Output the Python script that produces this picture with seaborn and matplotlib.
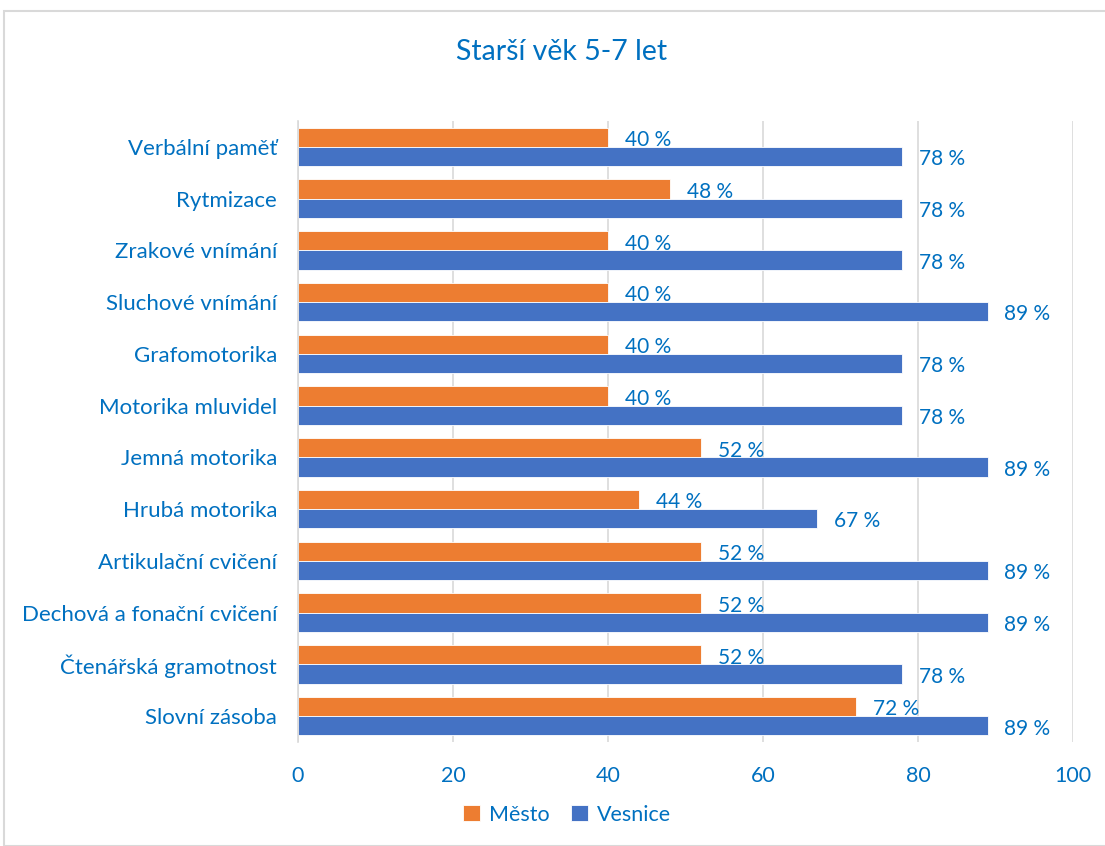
import pandas as pd
import matplotlib.pyplot as plt
import seaborn as sns
from matplotlib.patches import Rectangle

# data
categories = ['Verbální paměť', 'Rytmizace', 'Zrakové vnímání', 'Sluchové vnímání',
              'Grafomotorika', 'Motorika mluvidel', 'Jemná motorika', 'Hrubá motorika',
              'Artikulační cvičení', 'Dechová a fonační cvičení', 'Čtenářská gramotnost',
              'Slovní zásoba']
mesto = [40, 48, 40, 40, 40, 40, 52, 44, 52, 52, 52, 72]
vesnice = [78, 78, 78, 89, 78, 78, 89, 67, 89, 89, 78, 89]
series = ['Město', 'Vesnice']
x_ticks = [0, 20, 40, 60, 80, 100]

df = pd.DataFrame({
    'kategorie': categories * 2,
    'hodnota': mesto + vesnice,
    'skupina': [series[0]] * len(mesto) + [series[1]] * len(vesnice),
})

sns.set_theme(style='white')
plt.rcParams['font.family'] = ['Lato', 'DejaVu Sans']
txt = '#0070C0'

fig = plt.figure(figsize=(11.05, 8.46), dpi=100)
ax = fig.add_axes([0.2697, 0.1229, 0.7013, 0.7341])

sns.barplot(data=df, y='kategorie', x='hodnota', hue='skupina', orient='h',
            palette=['#ED7D31', '#4472C4'], saturation=1, width=0.74, ax=ax,
            edgecolor='white', linewidth=0.6, legend=True)

for cont in ax.containers:
    labels = ax.bar_label(cont, labels=[f'{v:.0f} %' for v in cont.datavalues],
                          padding=12, color=txt, fontsize=15)
    # Excel puts the labels a touch below the bar centre (offset is in points)
    for t in labels:
        t.set_y(-2)

ax.set_xlim(0, 100)
ax.set_xticks(x_ticks)
ax.set_xlabel('')
ax.set_ylabel('')
ax.grid(axis='x', color='#d9d9d9', linewidth=1.2)
ax.set_axisbelow(True)
for s in ['top', 'right', 'bottom']:
    ax.spines[s].set_visible(False)
ax.spines['left'].set_color('#d9d9d9')
ax.spines['left'].set_linewidth(1.2)
ax.tick_params(axis='x', length=0, pad=17, labelsize=15.5, labelcolor=txt)
ax.tick_params(axis='y', length=0, pad=15, labelsize=16, labelcolor=txt)

ax.legend(loc='center', bbox_to_anchor=(0.513, 0.037), bbox_transform=fig.transFigure,
          ncol=2, frameon=False, fontsize=15.5, labelcolor=txt, handlelength=0.8,
          handleheight=0.8, handletextpad=0.4, columnspacing=1.0)

fig.text(0.508, 0.938, 'Starší věk 5-7 let', ha='center', va='center',
         fontsize=20.5, color=txt)

fig.patches.append(Rectangle((0.004, 0.0), 1.2, 0.987, transform=fig.transFigure,
                             fill=False, edgecolor='#d9d9d9', linewidth=1.5))

fig.savefig('out.png', dpi=100)
